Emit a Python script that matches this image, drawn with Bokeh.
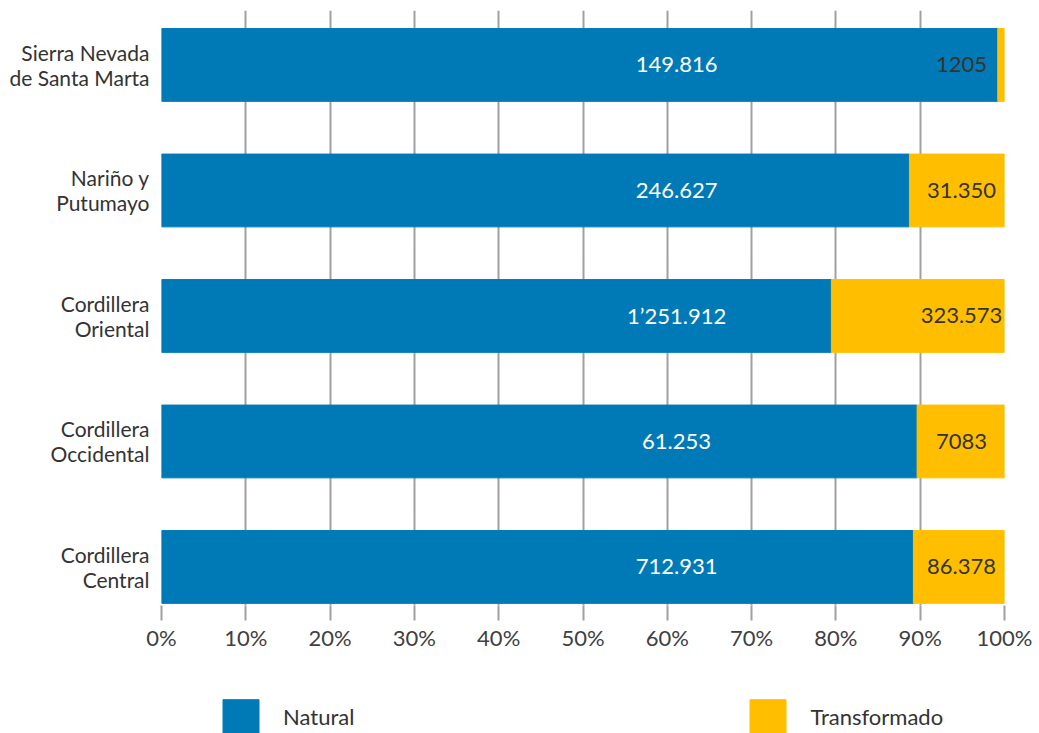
from bokeh.plotting import figure
from bokeh.layouts import column
from bokeh.models import Range1d, FixedTicker, Legend, LegendItem, ColumnDataSource
from bokeh.embed import file_html
from bokeh.resources import INLINE
from bokeh.core.properties import value

categories = ["Sierra Nevada\nde Santa Marta", "Nariño y\nPutumayo", "Cordillera\nOriental",
              "Cordillera\nOccidental", "Cordillera\nCentral"]
natural = [149816, 246627, 1251912, 61253, 712931]
transformado = [1205, 31350, 323573, 7083, 86378]
x_ticks = [0, 10, 20, 30, 40, 50, 60, 70, 80, 90, 100]
x_tick_labels = ["0%", "10%", "20%", "30%", "40%", "50%", "60%", "70%", "80%", "90%", "100%"]
series_names = ["Natural", "Transformado"]

BLUE = "#007AB7"
YELLOW = "#FFBF00"
FONT = "Lato"
TXT = "#333333"

def fmt(v):
    if v < 10000:
        return str(v)
    parts = f"{v:,}".split(",")
    if len(parts) == 3:
        return parts[0] + "\u2019" + parts[1] + "." + parts[2]
    return ".".join(parts)

n = len(categories)
ypos = [n - 1 - i for i in range(n)]
nat_pct = [100.0 * a / (a + b) for a, b in zip(natural, transformado)]

src = ColumnDataSource(dict(
    y=ypos, nat=nat_pct, zero=[0] * n, full=[100] * n,
    nat_lbl=[fmt(v) for v in natural], tr_lbl=[fmt(v) for v in transformado],
    nat_x=[61.1] * n, tr_x=[94.9] * n,
))

p = figure(width=1039, height=668, output_backend="svg", toolbar_location=None,
           x_range=Range1d(0, 100), y_range=Range1d(-0.307, 4.434),
           min_border_left=161, min_border_right=35, min_border_top=10, min_border_bottom=63)
p.outline_line_color = None

r_nat = p.hbar(y="y", left="zero", right="nat", height=0.58, color=BLUE, source=src)
r_tr = p.hbar(y="y", left="nat", right="full", height=0.58, color=YELLOW, source=src)

p.text(x="nat_x", y="y", text="nat_lbl", source=src, text_align="center", text_baseline="middle",
       text_font=value(FONT), text_font_size="22px", text_color="white")
p.text(x="tr_x", y="y", text="tr_lbl", source=src, text_align="center", text_baseline="middle",
       text_font=value(FONT), text_font_size="22px", text_color=TXT)

xa = p.xaxis[0]
xa.ticker = FixedTicker(ticks=x_ticks)
xa.major_label_overrides = {t: l for t, l in zip(x_ticks, x_tick_labels)}
xa.axis_line_color = None
xa.major_tick_in = 0
xa.major_tick_out = 15
xa.major_tick_line_color = "#A0A0A0"
xa.major_tick_line_width = 2
xa.minor_tick_line_color = None
xa.major_label_standoff = 3
xa.major_label_text_font = FONT
xa.major_label_text_font_size = "22px"
xa.major_label_text_color = "#404040"

ya = p.yaxis[0]
ya.ticker = FixedTicker(ticks=ypos)
ya.major_label_overrides = {y: c for y, c in zip(ypos, categories)}
ya.axis_line_color = None
ya.major_tick_line_color = None
ya.minor_tick_line_color = None
ya.major_label_standoff = 6
ya.major_label_text_font = FONT
ya.major_label_text_font_size = "21px"
ya.major_label_text_line_height = 1.0
ya.major_label_text_color = TXT

p.xgrid.grid_line_color = "#A0A0A0"
p.xgrid.grid_line_width = 2
p.ygrid.grid_line_color = None

# legend strip (frame aligned with the main plot's frame by the column layout)
q = figure(width=1039, height=65, output_backend="svg", toolbar_location=None,
           x_axis_type=None, y_axis_type=None, x_range=Range1d(0, 1), y_range=Range1d(0, 1),
           min_border=0)
q.outline_line_color = None
q.xgrid.grid_line_color = None
q.ygrid.grid_line_color = None
l_nat = q.hbar(y=[0.5], left=[0], right=[1], height=1, color=BLUE, visible=False)
l_tr = q.hbar(y=[0.5], left=[0], right=[1], height=1, color=YELLOW, visible=False)
legend = Legend(items=[LegendItem(label=series_names[0], renderers=[l_nat]),
                       LegendItem(label=series_names[1], renderers=[l_tr])],
                orientation="horizontal", location=(57, -4),
                glyph_width=45, glyph_height=42, label_standoff=20, spacing=391,
                padding=0, margin=0, border_line_color=None, background_fill_alpha=0,
                inactive_fill_alpha=0,
                label_text_font=FONT, label_text_font_size="22px", label_text_color=TXT)
q.add_layout(legend)

open("out.html", "w").write(file_html(column(p, q), INLINE))
